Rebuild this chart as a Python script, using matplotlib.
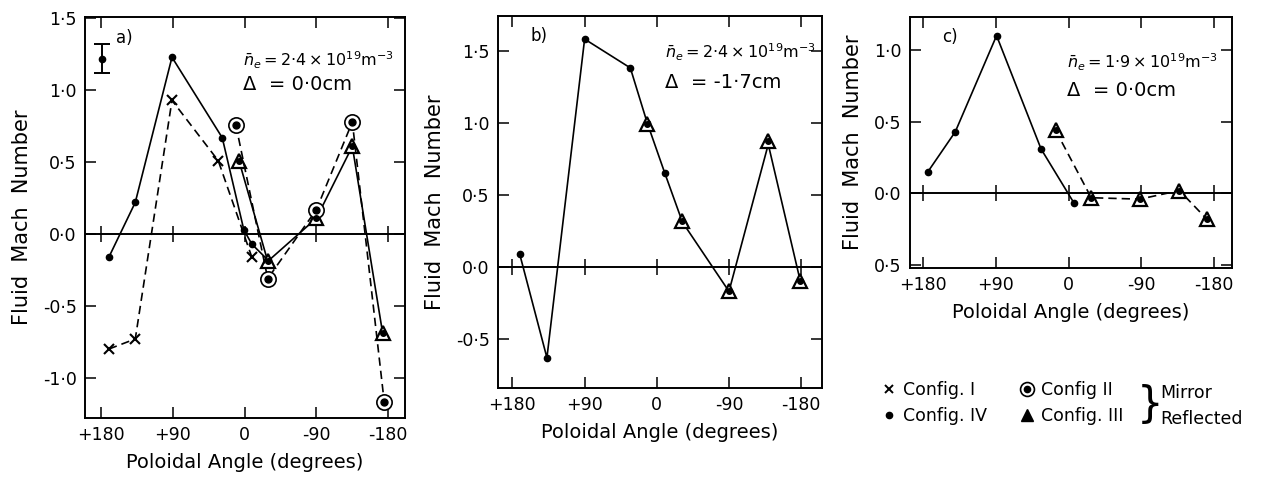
import matplotlib
matplotlib.use("Agg")
import matplotlib.pyplot as plt
from matplotlib.lines import Line2D

plt.rcParams['font.family'] = ['DejaVu Sans']
plt.rcParams['mathtext.fontset'] = 'dejavusans'

# ---------------- data ----------------
xticks = [180, 90, 0, -90, -180]
xticklabels = ['+180', '+90', '0', '-90', '-180']

# panel a
a_iv_x = [170, 137, 91, 28, 1, -9, -29]
a_iv_y = [-0.16, 0.22, 1.23, 0.67, 0.03, -0.07, -0.18]
a_i_x = [170, 137, 91, 33, -9]
a_i_y = [-0.80, -0.73, 0.93, 0.51, -0.16]
a_iii_x = [7, -29, -90, -135, -173]
a_iii_y = [0.51, -0.19, 0.11, 0.61, -0.69]
a_ii_x = [11, -29, -90, -135, -175]
a_ii_y = [0.76, -0.31, 0.17, 0.78, -1.17]
a_err_x, a_err_y, a_err = 179, 1.22, 0.10
a_yticks = [1.5, 1.0, 0.5, 0.0, -0.5, -1.0]
a_yticklabels = ['1·5', '1·0', '0·5', '0·0', '-0·5', '-1·0']

# panel b
b_iv_x = [171, 137, 90, 33, 12, -10, -32, -90, -139, -179]
b_iv_y = [0.09, -0.63, 1.58, 1.38, 1.00, 0.65, 0.31, -0.17, 0.85, -0.10]
b_iii_x = [12, -32, -90, -139, -179]
b_iii_y = [0.99, 0.32, -0.17, 0.87, -0.10]
b_yticks = [1.5, 1.0, 0.5, 0.0, -0.5]
b_yticklabels = ['1·5', '1·0', '0·5', '0·0', '-0·5']

# panel c
c_iv_x = [174, 140, 89, 34, -7]
c_iv_y = [0.15, 0.43, 1.10, 0.31, -0.07]
c_iii_x = [16, -28, -88, -137, -171]
c_iii_y = [0.44, -0.03, -0.04, 0.02, -0.18]
c_yticks = [1.0, 0.5, 0.0, -0.5]
c_yticklabels = ['1·0', '0·5', '0·0', '0·5']

W, H = 1261, 479
fig = plt.figure(figsize=(W / 100, H / 100), dpi=100)


def px_axes(l, t, r, b):
    return fig.add_axes([l / W, 1 - b / H, (r - l) / W, (b - t) / H])


DASH = (0, (5, 3))
LW = 1.2


def style(ax, xlim, ylim, yticks, yticklabels):
    ax.set_xlim(*xlim)
    ax.set_ylim(*ylim)
    ax.set_xticks(xticks)
    ax.set_xticklabels(xticklabels)
    ax.set_yticks(yticks)
    ax.set_yticklabels(yticklabels)
    ax.tick_params(direction='in', length=8, width=1.1, top=True, right=True,
                   labelsize=12.5, pad=6)
    for s in ax.spines.values():
        s.set_linewidth(1.4)
    ax.axhline(0, color='black', lw=1.4, zorder=1)
    ax.plot(xticks, [0] * len(xticks), ls='none', marker='|', ms=12, mew=1.1,
            color='black', zorder=1)
    ax.set_xlabel('Poloidal Angle (degrees)', fontsize=14, labelpad=6)
    ax.set_ylabel('Fluid  Mach  Number', fontsize=15, labelpad=8)


def dots(ax, x, y, ls='-'):
    ax.plot(x, y, color='black', lw=LW, ls=ls, marker='o', ms=4.5,
            mfc='black', mec='black', zorder=3)


def crosses(ax, x, y, ls=DASH):
    ax.plot(x, y, color='black', lw=LW, ls=ls, marker='x', ms=7, mew=1.5,
            zorder=3)


def circled(ax, x, y, ls=DASH):
    ax.plot(x, y, color='black', lw=LW, ls=ls, marker='o', ms=11, mfc='white',
            mec='black', mew=1.2, zorder=3)
    ax.plot(x, y, ls='none', marker='o', ms=5, color='black', zorder=4)


def triangles(ax, x, y, ls='-'):
    ax.plot(x, y, color='black', lw=LW, ls=ls, marker='^', ms=10, mfc='white',
            mec='black', mew=1.6, zorder=3)
    ax.plot(x, y, ls='none', marker='o', ms=4, color='black', zorder=4)


# ---------------- panel a ----------------
axa = px_axes(85, 17, 405, 418)
style(axa, (200, -201), (-1.28, 1.51), a_yticks, a_yticklabels)
dots(axa, a_iv_x, a_iv_y)
crosses(axa, a_i_x, a_i_y)
triangles(axa, a_iii_x, a_iii_y)
circled(axa, a_ii_x, a_ii_y)
axa.errorbar([a_err_x], [a_err_y], yerr=[a_err], fmt='o', ms=4.5, color='black',
             capsize=6, elinewidth=1.4, capthick=1.4)
fig.text(124 / W, 1 - 38 / H, 'a)', fontsize=12, ha='center', va='center')
fig.text(243 / W, 1 - 60 / H, r'$\bar{n}_e = 2{\cdot}4\times10^{19}\mathrm{m}^{-3}$',
         fontsize=11.5, ha='left', va='center')
fig.text(243 / W, 1 - 84 / H, 'Δ  = 0·0cm', fontsize=14, ha='left', va='center')

# ---------------- panel b ----------------
axb = px_axes(498, 16, 822, 388)
style(axb, (198, -206), (-0.84, 1.74), b_yticks, b_yticklabels)
dots(axb, b_iv_x, b_iv_y)
triangles(axb, b_iii_x, b_iii_y, ls='none')
fig.text(539 / W, 1 - 36 / H, 'b)', fontsize=12, ha='center', va='center')
fig.text(665 / W, 1 - 52 / H, r'$\bar{n}_e = 2{\cdot}4\times10^{19}\mathrm{m}^{-3}$',
         fontsize=11.5, ha='left', va='center')
fig.text(665 / W, 1 - 83 / H, 'Δ  = -1·7cm', fontsize=14, ha='left', va='center')

# ---------------- panel c ----------------
axc = px_axes(910, 17, 1232, 268)
style(axc, (196, -202), (-0.52, 1.23), c_yticks, c_yticklabels)
dots(axc, c_iv_x, c_iv_y)
triangles(axc, c_iii_x, c_iii_y, ls=DASH)
fig.text(950 / W, 1 - 37 / H, 'c)', fontsize=12, ha='center', va='center')
fig.text(1067 / W, 1 - 62 / H, r'$\bar{n}_e = 1{\cdot}9\times10^{19}\mathrm{m}^{-3}$',
         fontsize=11.5, ha='left', va='center')
fig.text(1067 / W, 1 - 90 / H, 'Δ  = 0·0cm', fontsize=14, ha='left', va='center')

# ---------------- legend ----------------
h_i = Line2D([], [], ls='none', marker='x', ms=6, mew=1.4, color='black')
h_iv = Line2D([], [], ls='none', marker='o', ms=4.5, color='black')
h_ii_ring = Line2D([], [], ls='none', marker='o', ms=10, mfc='white', mec='black', mew=1.2)
h_ii_dot = Line2D([], [], ls='none', marker='o', ms=4.5, color='black')
h_iii = Line2D([], [], ls='none', marker='^', ms=9, mfc='black', mec='black')
leg = fig.legend([h_i, h_iv, (h_ii_ring, h_ii_dot), h_iii],
                 ['Config. I', 'Config. IV', 'Config II', 'Config. III'],
                 ncol=2, frameon=False, fontsize=12.5,
                 loc='upper left', bbox_to_anchor=(872 / W, 1 - 372 / H),
                 handletextpad=0.3, handlelength=1.0, columnspacing=1.8,
                 labelspacing=0.5, borderpad=0)
fig.text(1150 / W, 1 - 405 / H, '}', fontsize=30, ha='center', va='center')
fig.text(1160 / W, 1 - 393 / H, 'Mirror', fontsize=12.5, ha='left', va='center')
fig.text(1160 / W, 1 - 419 / H, 'Reflected', fontsize=12.5, ha='left', va='center')

fig.savefig('out.png', dpi=100)
